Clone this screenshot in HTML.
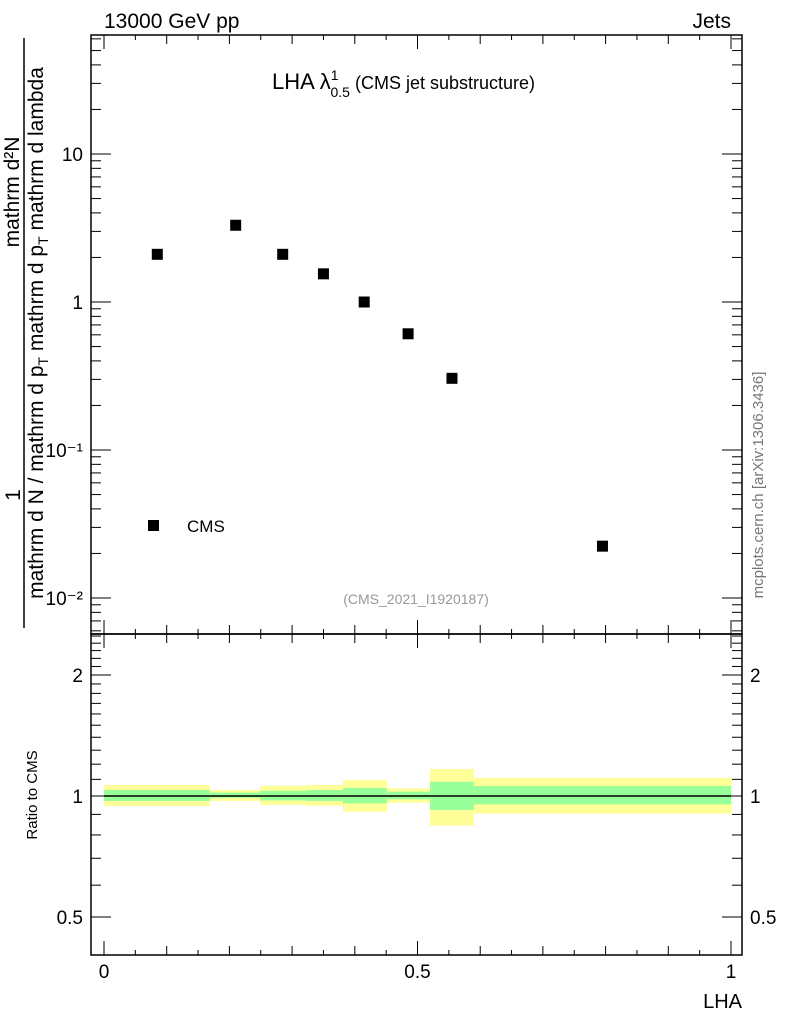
<!DOCTYPE html>
<html><head><meta charset="utf-8"><style>
body{margin:0;background:#fff;}
svg{font-family:"Liberation Sans",sans-serif;}
</style></head><body>
<svg id="c" width="786" height="1024" xmlns="http://www.w3.org/2000/svg">
<text x="104" y="28" font-size="21">13000 GeV pp</text>
<text x="731" y="28" font-size="21" text-anchor="end">Jets</text>
<text x="272" y="89" font-size="22">LHA λ<tspan dy="-9" font-size="14">1</tspan><tspan dx="-8" dy="17" font-size="14">0.5</tspan><tspan dy="-8" font-size="18"> (CMS jet substructure)</tspan></text>
<text x="416" y="604" font-size="14" fill="#999" text-anchor="middle">(CMS_2021_I1920187)</text>
<text transform="translate(763,485) rotate(-90)" font-size="15" fill="#777" text-anchor="middle">mcplots.cern.ch [arXiv:1306.3436]</text>
<g>
<text transform="translate(20,495) rotate(-90)" font-size="21" text-anchor="middle">1</text>
<line x1="24" y1="38" x2="24" y2="628" stroke="#000" stroke-width="1.5"/>
<text transform="translate(19,192) rotate(-90)" font-size="21" text-anchor="middle">mathrm d²N</text>
<text transform="translate(43,333) rotate(-90)" font-size="21" text-anchor="middle">mathrm d N / mathrm d p<tspan font-size="14" dy="5">T</tspan><tspan dy="-5"> mathrm d p</tspan><tspan font-size="14" dy="5">T</tspan><tspan dy="-5"> mathrm d lambda</tspan></text>
</g>
<text transform="translate(37,795) rotate(-90)" font-size="15" text-anchor="middle">Ratio to CMS</text>
<text x="742" y="1008" font-size="20" text-anchor="end">LHA</text>
<g id="g"></g>
</svg>
<script>
const xVals=[0.085,0.21,0.285,0.35,0.415,0.485,0.555,0.795];
const yVals=[2.1,3.3,2.1,1.55,1.0,0.61,0.305,0.0224];
const binEdges=[0,0.169,0.249,0.322,0.381,0.451,0.52,0.59,1.0];
const yelLo=[0.944,0.972,0.95,0.946,0.914,0.962,0.844,0.904];
const yelHi=[1.065,1.035,1.06,1.065,1.096,1.045,1.167,1.109];
const grnLo=[0.972,0.99,0.975,0.972,0.959,0.981,0.923,0.953];
const grnHi=[1.035,1.02,1.03,1.035,1.047,1.025,1.085,1.059];
const xTicks=[0,0.5,1];
const xTickLabels=["0","0.5","1"];
const yTicks=[0.01,0.1,1,10];
const yTickLabels=["10⁻²","10⁻¹","1","10"];
const rTicks=[0.5,1,2];
const rTickLabels=["0.5","1","2"];

const L=91,R=742,T=35,M=634,B=955;
const X=v=>104+627*v;
const Y=v=>302-148*Math.log10(v);
const RY=v=>796-402*Math.log10(v);
const NS="http://www.w3.org/2000/svg";
const g=document.getElementById('g');
function mk(t,a,p){const e=document.createElementNS(NS,t);for(const k in a)e.setAttribute(k,a[k]);(p||g).appendChild(e);return e;}
function ln(x1,y1,x2,y2,w){return mk('line',{x1,y1,x2,y2,stroke:'#000','stroke-width':w||1});}

for(let i=0;i<binEdges.length-1;i++){
 const x0=X(binEdges[i]),x1=X(binEdges[i+1]);
 let r=mk('rect',{x:x0,y:RY(yelHi[i]),width:x1-x0,height:RY(yelLo[i])-RY(yelHi[i]),fill:'#ffff99'});
 
 
 r=mk('rect',{x:x0,y:RY(grnHi[i]),width:x1-x0,height:RY(grnLo[i])-RY(grnHi[i]),fill:'#99ff99'});
 
 
}
ln(X(0),RY(1),X(1),RY(1),1.5);
mk('rect',{x:L,y:T,width:R-L,height:M-T,fill:'none',stroke:'#000','stroke-width':1.5});
mk('rect',{x:L,y:M,width:R-L,height:B-M,fill:'none',stroke:'#000','stroke-width':1.5});
for(let v=0;v<=1.0001;v+=0.05){
 const major=Math.abs(v*10-Math.round(v*10))<1e-6;
 const len=Math.abs(v*2-Math.round(v*2))<1e-6?14:(major?9:5);
 for(const [y,d] of [[T,1],[M,-1],[M,1],[B,-1]]) ln(X(v),y,X(v),y+d*len);
}
xTicks.forEach((v,i)=>{const t=mk('text',{x:X(v),y:978,'font-size':19,'text-anchor':'middle'});t.textContent=xTickLabels[i];
 
 });
for(let e=-3;e<=2;e++)for(let m=1;m<10;m++){const v=m*Math.pow(10,e);const y=Y(v);if(y<T||y>M)continue;const len=m==1?20:10;ln(L,y,L+len,y);ln(R,y,R-len,y);}
yTicks.forEach((v,i)=>{const t=mk('text',{x:L-8,y:Y(v)+7,'font-size':19,'text-anchor':'end'});t.textContent=yTickLabels[i];
 
 });
for(let v=0.4;v<=2.6;v+=0.1){const y=RY(v);if(y<M||y>B)continue;const maj=Math.abs(v-0.5)<1e-6||Math.abs(v-1)<1e-6||Math.abs(v-2)<1e-6;const len=maj?20:10;ln(L,y,L+len,y);ln(R,y,R-len,y);}
rTicks.forEach((v,i)=>{
 let t=mk('text',{x:L-8,y:RY(v)+7,'font-size':19,'text-anchor':'end'});t.textContent=rTickLabels[i];
 
 
 t=mk('text',{x:R+8,y:RY(v)+7,'font-size':19});t.textContent=rTickLabels[i];
 
 });
xVals.forEach((v,i)=>{const p=mk('rect',{x:X(v)-5.5,y:Y(yVals[i])-5.5,width:11,height:11,fill:'#000'});
 
 });
const lg=mk('rect',{x:148,y:520,width:11,height:11,fill:'#000'});


const lt=mk('text',{x:187,y:532,'font-size':17});lt.textContent='CMS';


</script>
</body></html>
